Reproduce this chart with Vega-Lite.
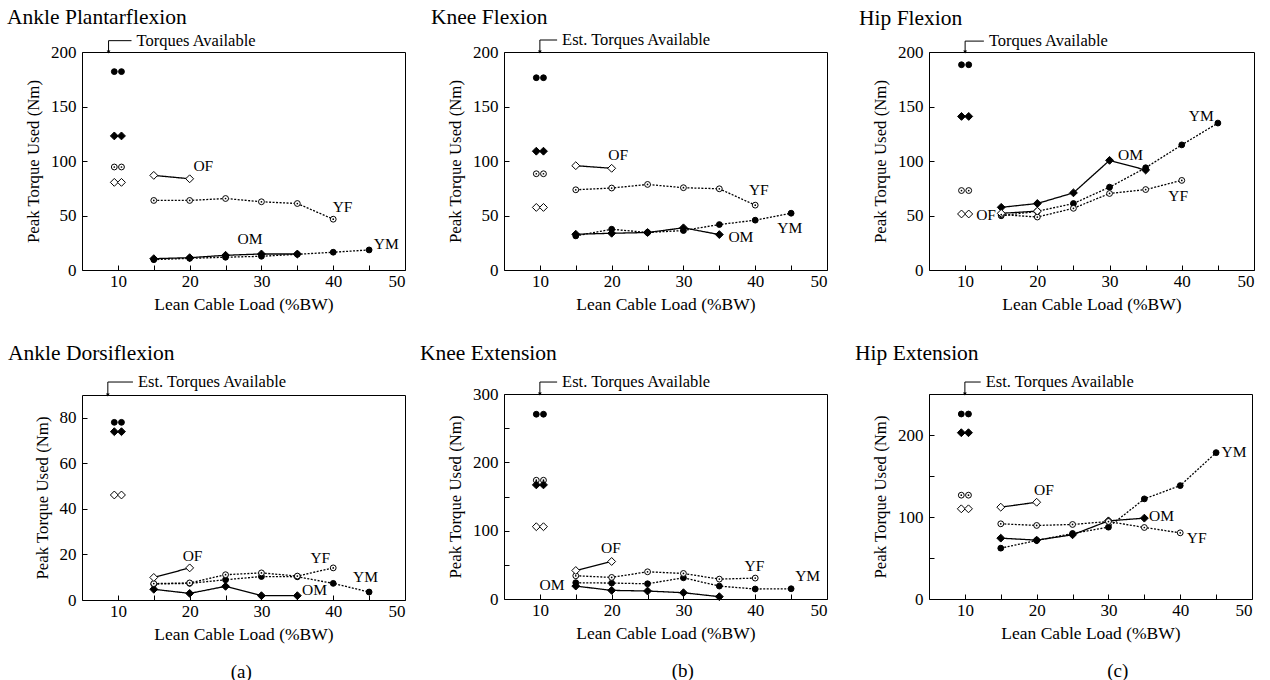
{
"$schema": "https://vega.github.io/schema/vega-lite/v6.json",
"background": "white",
"padding": {"left": 6, "top": 6, "right": 5, "bottom": 5},
"config": {
  "font": "Liberation Serif",
  "view": {"stroke": "black", "strokeWidth": 1},
  "legend": {"disable": true},
  "axis": {"domain": false, "grid": false, "tickSize": -5, "tickColor": "black", "labelColor": "black", "titleColor": "black", "labelFont": "Liberation Serif", "titleFont": "Liberation Serif", "labelFontSize": 17, "titleFontWeight": "normal"},
  "axisX": {"titleFontSize": 17.5, "labelPadding": 8, "titlePadding": 6},
  "axisY": {"titleFontSize": 16.8, "labelPadding": 11, "titlePadding": 8},
  "title": {"font": "Liberation Serif", "fontSize": 21.5, "fontWeight": "normal", "anchor": "start", "color": "black", "frame": "group", "offset": 4},
  "text": {"font": "Liberation Serif", "fontSize": 15.5, "color": "black"}
},
"datasets": {
  "d": [
    {"p":"AP","g":"YM","k":"c","x":15,"y":9.5},{"p":"AP","g":"YM","k":"c","x":20,"y":10.7},{"p":"AP","g":"YM","k":"c","x":25,"y":11.7},{"p":"AP","g":"YM","k":"c","x":30,"y":12.6},{"p":"AP","g":"YM","k":"c","x":35,"y":14.4},{"p":"AP","g":"YM","k":"c","x":40,"y":16.3},{"p":"AP","g":"YM","k":"c","x":45,"y":18.4},
    {"p":"AP","g":"OM","k":"c","x":15,"y":10.4},{"p":"AP","g":"OM","k":"c","x":20,"y":11.3},{"p":"AP","g":"OM","k":"c","x":25,"y":13.5},{"p":"AP","g":"OM","k":"c","x":30,"y":14.7},{"p":"AP","g":"OM","k":"c","x":35,"y":14.7},
    {"p":"AP","g":"YF","k":"c","x":15,"y":63.8},{"p":"AP","g":"YF","k":"c","x":20,"y":63.8},{"p":"AP","g":"YF","k":"c","x":25,"y":65.6},{"p":"AP","g":"YF","k":"c","x":30,"y":62.6},{"p":"AP","g":"YF","k":"c","x":35,"y":61},{"p":"AP","g":"YF","k":"c","x":40,"y":46.6},
    {"p":"AP","g":"OF","k":"c","x":15,"y":86.8},{"p":"AP","g":"OF","k":"c","x":20,"y":83.7},
    {"p":"AP","g":"YM","k":"a","x":9.5,"y":182},{"p":"AP","g":"YM","k":"a","x":10.5,"y":182},
    {"p":"AP","g":"OM","k":"a","x":9.5,"y":123},{"p":"AP","g":"OM","k":"a","x":10.5,"y":123},
    {"p":"AP","g":"YF","k":"a","x":9.5,"y":94.5},{"p":"AP","g":"YF","k":"a","x":10.5,"y":94.5},
    {"p":"AP","g":"OF","k":"a","x":9.5,"y":80.4},{"p":"AP","g":"OF","k":"a","x":10.5,"y":80.4},

    {"p":"KF","g":"YM","k":"c","x":15,"y":31.3},{"p":"KF","g":"YM","k":"c","x":20,"y":37.4},{"p":"KF","g":"YM","k":"c","x":25,"y":34.4},{"p":"KF","g":"YM","k":"c","x":30,"y":36.2},{"p":"KF","g":"YM","k":"c","x":35,"y":41.7},{"p":"KF","g":"YM","k":"c","x":40,"y":45.7},{"p":"KF","g":"YM","k":"c","x":45,"y":52.1},
    {"p":"KF","g":"OM","k":"c","x":15,"y":32.8},{"p":"KF","g":"OM","k":"c","x":20,"y":33.7},{"p":"KF","g":"OM","k":"c","x":25,"y":34.4},{"p":"KF","g":"OM","k":"c","x":30,"y":38.7},{"p":"KF","g":"OM","k":"c","x":35,"y":32.5},
    {"p":"KF","g":"YF","k":"c","x":15,"y":73.6},{"p":"KF","g":"YF","k":"c","x":20,"y":75.2},{"p":"KF","g":"YF","k":"c","x":25,"y":78.5},{"p":"KF","g":"YF","k":"c","x":30,"y":75.5},{"p":"KF","g":"YF","k":"c","x":35,"y":74.5},{"p":"KF","g":"YF","k":"c","x":40,"y":59.5},
    {"p":"KF","g":"OF","k":"c","x":15,"y":95.7},{"p":"KF","g":"OF","k":"c","x":20,"y":93.3},
    {"p":"KF","g":"YM","k":"a","x":9.5,"y":176.4},{"p":"KF","g":"YM","k":"a","x":10.5,"y":176.4},
    {"p":"KF","g":"OM","k":"a","x":9.5,"y":109},{"p":"KF","g":"OM","k":"a","x":10.5,"y":109},
    {"p":"KF","g":"YF","k":"a","x":9.5,"y":88.3},{"p":"KF","g":"YF","k":"a","x":10.5,"y":88.3},
    {"p":"KF","g":"OF","k":"a","x":9.5,"y":57.4},{"p":"KF","g":"OF","k":"a","x":10.5,"y":57.4},

    {"p":"HF","g":"YM","k":"c","x":15,"y":49.8},{"p":"HF","g":"YM","k":"c","x":20,"y":53.8},{"p":"HF","g":"YM","k":"c","x":25,"y":61},{"p":"HF","g":"YM","k":"c","x":30,"y":76},{"p":"HF","g":"YM","k":"c","x":35,"y":93.8},{"p":"HF","g":"YM","k":"c","x":40,"y":114.8},{"p":"HF","g":"YM","k":"c","x":45,"y":134.8},
    {"p":"HF","g":"OM","k":"c","x":15,"y":57.5},{"p":"HF","g":"OM","k":"c","x":20,"y":61},{"p":"HF","g":"OM","k":"c","x":25,"y":70.8},{"p":"HF","g":"OM","k":"c","x":30,"y":100.6},{"p":"HF","g":"OM","k":"c","x":35,"y":91.7},
    {"p":"HF","g":"YF","k":"c","x":15,"y":50.8},{"p":"HF","g":"YF","k":"c","x":20,"y":48.6},{"p":"HF","g":"YF","k":"c","x":25,"y":56.6},{"p":"HF","g":"YF","k":"c","x":30,"y":70.2},{"p":"HF","g":"YF","k":"c","x":35,"y":73.8},{"p":"HF","g":"YF","k":"c","x":40,"y":82.2},
    {"p":"HF","g":"OF","k":"c","x":15,"y":52},{"p":"HF","g":"OF","k":"c","x":20,"y":54},
    {"p":"HF","g":"YM","k":"a","x":9.5,"y":188.3},{"p":"HF","g":"YM","k":"a","x":10.5,"y":188.3},
    {"p":"HF","g":"OM","k":"a","x":9.5,"y":140.9},{"p":"HF","g":"OM","k":"a","x":10.5,"y":140.9},
    {"p":"HF","g":"YF","k":"a","x":9.5,"y":72.9},{"p":"HF","g":"YF","k":"a","x":10.5,"y":72.9},
    {"p":"HF","g":"OF","k":"a","x":9.5,"y":51.4},{"p":"HF","g":"OF","k":"a","x":10.5,"y":51.4},

    {"p":"AD","g":"YM","k":"c","x":15,"y":7},{"p":"AD","g":"YM","k":"c","x":20,"y":7.3},{"p":"AD","g":"YM","k":"c","x":25,"y":8.9},{"p":"AD","g":"YM","k":"c","x":30,"y":10.3},{"p":"AD","g":"YM","k":"c","x":35,"y":10.2},{"p":"AD","g":"YM","k":"c","x":40,"y":7.3},{"p":"AD","g":"YM","k":"c","x":45,"y":3.5},
    {"p":"AD","g":"OM","k":"c","x":15,"y":4.7},{"p":"AD","g":"OM","k":"c","x":20,"y":2.9},{"p":"AD","g":"OM","k":"c","x":25,"y":6},{"p":"AD","g":"OM","k":"c","x":30,"y":1.9},{"p":"AD","g":"OM","k":"c","x":35,"y":1.9},
    {"p":"AD","g":"YF","k":"c","x":15,"y":7.2},{"p":"AD","g":"YF","k":"c","x":20,"y":7.5},{"p":"AD","g":"YF","k":"c","x":25,"y":11.1},{"p":"AD","g":"YF","k":"c","x":30,"y":11.9},{"p":"AD","g":"YF","k":"c","x":35,"y":10.5},{"p":"AD","g":"YF","k":"c","x":40,"y":14.1},
    {"p":"AD","g":"OF","k":"c","x":15,"y":9.9},{"p":"AD","g":"OF","k":"c","x":20,"y":14.1},
    {"p":"AD","g":"YM","k":"a","x":9.5,"y":78},{"p":"AD","g":"YM","k":"a","x":10.5,"y":78},
    {"p":"AD","g":"OM","k":"a","x":9.5,"y":73.9},{"p":"AD","g":"OM","k":"a","x":10.5,"y":73.9},
    {"p":"AD","g":"OF","k":"a","x":9.5,"y":46.1},{"p":"AD","g":"OF","k":"a","x":10.5,"y":46.1},

    {"p":"KE","g":"YM","k":"c","x":15,"y":23.8},{"p":"KE","g":"YM","k":"c","x":20,"y":23.3},{"p":"KE","g":"YM","k":"c","x":25,"y":22.3},{"p":"KE","g":"YM","k":"c","x":30,"y":31},{"p":"KE","g":"YM","k":"c","x":35,"y":18.9},{"p":"KE","g":"YM","k":"c","x":40,"y":14.6},{"p":"KE","g":"YM","k":"c","x":45,"y":15},
    {"p":"KE","g":"OM","k":"c","x":15,"y":18.9},{"p":"KE","g":"OM","k":"c","x":20,"y":12.6},{"p":"KE","g":"OM","k":"c","x":25,"y":11.7},{"p":"KE","g":"OM","k":"c","x":30,"y":9.2},{"p":"KE","g":"OM","k":"c","x":35,"y":3.4},
    {"p":"KE","g":"YF","k":"c","x":15,"y":34},{"p":"KE","g":"YF","k":"c","x":20,"y":31.6},{"p":"KE","g":"YF","k":"c","x":25,"y":39.8},{"p":"KE","g":"YF","k":"c","x":30,"y":37.4},{"p":"KE","g":"YF","k":"c","x":35,"y":29.1},{"p":"KE","g":"YF","k":"c","x":40,"y":30.6},
    {"p":"KE","g":"OF","k":"c","x":15,"y":41.7},{"p":"KE","g":"OF","k":"c","x":20,"y":54.9},
    {"p":"KE","g":"YM","k":"a","x":9.5,"y":270.4},{"p":"KE","g":"YM","k":"a","x":10.5,"y":270.4},
    {"p":"KE","g":"YF","k":"a","x":9.5,"y":173.8},{"p":"KE","g":"YF","k":"a","x":10.5,"y":173.8},
    {"p":"KE","g":"OM","k":"a","x":9.5,"y":167},{"p":"KE","g":"OM","k":"a","x":10.5,"y":167},
    {"p":"KE","g":"OF","k":"a","x":9.5,"y":105.8},{"p":"KE","g":"OF","k":"a","x":10.5,"y":105.8},

    {"p":"HE","g":"YM","k":"c","x":15,"y":62},{"p":"HE","g":"YM","k":"c","x":20,"y":71.4},{"p":"HE","g":"YM","k":"c","x":25,"y":79.9},{"p":"HE","g":"YM","k":"c","x":30,"y":87.6},{"p":"HE","g":"YM","k":"c","x":35,"y":122.1},{"p":"HE","g":"YM","k":"c","x":40,"y":138.3},{"p":"HE","g":"YM","k":"c","x":45,"y":178.5},
    {"p":"HE","g":"OM","k":"c","x":15,"y":74.2},{"p":"HE","g":"OM","k":"c","x":20,"y":71.8},{"p":"HE","g":"OM","k":"c","x":25,"y":78.3},{"p":"HE","g":"OM","k":"c","x":30,"y":95.3},{"p":"HE","g":"OM","k":"c","x":35,"y":98.6},
    {"p":"HE","g":"YF","k":"c","x":15,"y":91.7},{"p":"HE","g":"YF","k":"c","x":20,"y":89.7},{"p":"HE","g":"YF","k":"c","x":25,"y":90.9},{"p":"HE","g":"YF","k":"c","x":30,"y":94.5},{"p":"HE","g":"YF","k":"c","x":35,"y":87.2},{"p":"HE","g":"YF","k":"c","x":40,"y":80.7},
    {"p":"HE","g":"OF","k":"c","x":15,"y":112},{"p":"HE","g":"OF","k":"c","x":20,"y":118},
    {"p":"HE","g":"YM","k":"a","x":9.5,"y":225.6},{"p":"HE","g":"YM","k":"a","x":10.5,"y":225.6},
    {"p":"HE","g":"OM","k":"a","x":9.5,"y":202.8},{"p":"HE","g":"OM","k":"a","x":10.5,"y":202.8},
    {"p":"HE","g":"YF","k":"a","x":9.5,"y":126.6},{"p":"HE","g":"YF","k":"a","x":10.5,"y":126.6},
    {"p":"HE","g":"OF","k":"a","x":9.5,"y":110},{"p":"HE","g":"OF","k":"a","x":10.5,"y":110}
  ],
  "labs": [
    {"p":"AP","t":"OF","x":21.9,"y":95},{"p":"AP","t":"YF","x":41.3,"y":58},{"p":"AP","t":"OM","x":28.4,"y":28.5},{"p":"AP","t":"YM","x":47.4,"y":23.6},
    {"p":"KF","t":"OF","x":20.9,"y":105.8},{"p":"KF","t":"YF","x":40.5,"y":73.6},{"p":"KF","t":"OM","x":38,"y":30.7},{"p":"KF","t":"YM","x":44.8,"y":38.3},
    {"p":"HF","t":"OF","x":12.9,"y":50.8},{"p":"HF","t":"OM","x":32.9,"y":105.5},{"p":"HF","t":"YF","x":39.5,"y":68.3},{"p":"HF","t":"YM","x":42.7,"y":141.5},
    {"p":"AD","t":"OF","x":20.4,"y":19.3},{"p":"AD","t":"YF","x":38.2,"y":18.3},{"p":"AD","t":"YM","x":44.5,"y":10.3},{"p":"AD","t":"OM","x":37.4,"y":4.4},
    {"p":"KE","t":"OF","x":19.9,"y":75.2},{"p":"KE","t":"YF","x":39.9,"y":47.6},{"p":"KE","t":"YM","x":47.3,"y":33},{"p":"KE","t":"OM","x":11.7,"y":20.9},
    {"p":"HE","t":"OF","x":21,"y":133},{"p":"HE","t":"OM","x":37.4,"y":101.4},{"p":"HE","t":"YM","x":47.5,"y":179.7},{"p":"HE","t":"YF","x":42.3,"y":74.2}
  ],
  "ann": [
    {"p":"AP","t":"Torques Available","x":8.7,"x2":11.9,"y":210.4,"y2":200},
    {"p":"KF","t":"Est. Torques Available","x":10,"x2":12.4,"y":211,"y2":200},
    {"p":"HF","t":"Torques Available","x":10,"x2":12.6,"y":210,"y2":200},
    {"p":"AD","t":"Est. Torques Available","x":8.6,"x2":12.1,"y":95.7,"y2":90},
    {"p":"KE","t":"Est. Torques Available","x":10,"x2":12.4,"y":317.5,"y2":300},
    {"p":"HE","t":"Est. Torques Available","x":10,"x2":12.2,"y":264.6,"y2":250}
  ]
},
"spacing": 13,
"hconcat": [
  {"title": {"text": "(a)", "orient": "bottom", "anchor": "middle", "frame": "bounds", "fontSize": 19, "offset": 20, "dx": 35},
   "spacing": 29,
   "vconcat": [
    {"width": 323, "height": 218, "title": {"text": "Ankle Plantarflexion", "dx": -75},
     "encoding": {
       "x": {"field": "x", "type": "quantitative", "title": "Lean Cable Load (%BW)", "scale": {"domain": [5, 50], "nice": false, "zero": false}, "axis": {"values": [10,15,20,25,30,35,40,45,50], "labelExpr": "datum.value % 10 == 0 ? datum.label : ''"}},
       "y": {"field": "y", "type": "quantitative", "title": "Peak Torque Used (Nm)", "scale": {"domain": [0, 200], "nice": false}, "axis": {"values": [0,50,100,150,200]}}
     },
     "layer": [
       {"data": {"name": "d"}, "transform": [{"filter": "datum.p=='AP' && datum.k=='c'"}], "mark": {"type": "line", "color": "black", "strokeWidth": 1.3}, "encoding": {"detail": {"field": "g"}, "strokeDash": {"field": "g", "type": "nominal", "scale": {"domain": ["YM","OM","YF","OF"], "range": [[2,1.5],[1,0],[2,1.5],[1,0]]}}}},
       {"data": {"name": "d"}, "transform": [{"filter": "datum.p=='AP'"}], "mark": {"type": "point", "filled": true, "stroke": "black", "strokeWidth": 1, "opacity": 1}, "encoding": {"shape": {"field": "g", "type": "nominal", "scale": {"domain": ["YM","OM","YF","OF"], "range": ["circle","diamond","circle","diamond"]}}, "fill": {"field": "g", "type": "nominal", "scale": {"domain": ["YM","OM","YF","OF"], "range": ["black","black","white","white"]}}, "size": {"condition": {"test": "datum.g=='OM' || datum.g=='OF'", "value": 62}, "value": 34}}},
       {"data": {"name": "d"}, "transform": [{"filter": "datum.p=='AP' && datum.g=='YF'"}], "mark": {"type": "point", "filled": true, "color": "black", "size": 3, "opacity": 1}},
       {"data": {"name": "labs"}, "transform": [{"filter": "datum.p=='AP'"}], "mark": {"type": "text", "align": "center", "baseline": "middle"}, "encoding": {"text": {"field": "t"}}},
       {"data": {"name": "ann"}, "transform": [{"filter": "datum.p=='AP'"}], "mark": {"type": "rule", "color": "black", "strokeWidth": 1}, "encoding": {"y2": {"field": "y2"}}},
       {"data": {"name": "ann"}, "transform": [{"filter": "datum.p=='AP'"}], "mark": {"type": "rule", "color": "black", "strokeWidth": 1}, "encoding": {"x2": {"field": "x2"}}},
       {"data": {"name": "ann"}, "transform": [{"filter": "datum.p=='AP'"}], "mark": {"type": "point", "shape": "triangle-down", "filled": true, "color": "black", "size": 14, "dy": -3, "opacity": 1}, "encoding": {"y": {"field": "y2", "type": "quantitative", "title": "Peak Torque Used (Nm)"}}},
       {"data": {"name": "ann"}, "transform": [{"filter": "datum.p=='AP'"}], "mark": {"type": "text", "align": "left", "baseline": "middle", "fontSize": 16.5, "dx": 5}, "encoding": {"x": {"field": "x2", "type": "quantitative", "title": "Lean Cable Load (%BW)"}, "text": {"field": "t"}}}
     ]},
    {"width": 323, "height": 205, "title": {"text": "Ankle Dorsiflexion", "dx": -74, "offset": 10},
     "encoding": {
       "x": {"field": "x", "type": "quantitative", "title": "Lean Cable Load (%BW)", "scale": {"domain": [5, 50], "nice": false, "zero": false}, "axis": {"values": [10,15,20,25,30,35,40,45,50], "labelExpr": "datum.value % 10 == 0 ? datum.label : ''"}},
       "y": {"field": "y", "type": "quantitative", "title": "Peak Torque Used (Nm)", "scale": {"domain": [0, 90], "nice": false}, "axis": {"values": [0,20,40,60,80]}}
     },
     "layer": [
       {"data": {"name": "d"}, "transform": [{"filter": "datum.p=='AD' && datum.k=='c'"}], "mark": {"type": "line", "color": "black", "strokeWidth": 1.3}, "encoding": {"detail": {"field": "g"}, "strokeDash": {"field": "g", "type": "nominal", "scale": {"domain": ["YM","OM","YF","OF"], "range": [[2,1.5],[1,0],[2,1.5],[1,0]]}}}},
       {"data": {"name": "d"}, "transform": [{"filter": "datum.p=='AD'"}], "mark": {"type": "point", "filled": true, "stroke": "black", "strokeWidth": 1, "opacity": 1}, "encoding": {"shape": {"field": "g", "type": "nominal", "scale": {"domain": ["YM","OM","YF","OF"], "range": ["circle","diamond","circle","diamond"]}}, "fill": {"field": "g", "type": "nominal", "scale": {"domain": ["YM","OM","YF","OF"], "range": ["black","black","white","white"]}}, "size": {"condition": {"test": "datum.g=='OM' || datum.g=='OF'", "value": 62}, "value": 34}}},
       {"data": {"name": "d"}, "transform": [{"filter": "datum.p=='AD' && datum.g=='YF'"}], "mark": {"type": "point", "filled": true, "color": "black", "size": 3, "opacity": 1}},
       {"data": {"name": "labs"}, "transform": [{"filter": "datum.p=='AD'"}], "mark": {"type": "text", "align": "center", "baseline": "middle"}, "encoding": {"text": {"field": "t"}}},
       {"data": {"name": "ann"}, "transform": [{"filter": "datum.p=='AD'"}], "mark": {"type": "rule", "color": "black", "strokeWidth": 1}, "encoding": {"y2": {"field": "y2"}}},
       {"data": {"name": "ann"}, "transform": [{"filter": "datum.p=='AD'"}], "mark": {"type": "rule", "color": "black", "strokeWidth": 1}, "encoding": {"x2": {"field": "x2"}}},
       {"data": {"name": "ann"}, "transform": [{"filter": "datum.p=='AD'"}], "mark": {"type": "point", "shape": "triangle-down", "filled": true, "color": "black", "size": 14, "dy": -3, "opacity": 1}, "encoding": {"y": {"field": "y2", "type": "quantitative", "title": "Peak Torque Used (Nm)"}}},
       {"data": {"name": "ann"}, "transform": [{"filter": "datum.p=='AD'"}], "mark": {"type": "text", "align": "left", "baseline": "middle", "fontSize": 16.5, "dx": 5}, "encoding": {"x": {"field": "x2", "type": "quantitative", "title": "Lean Cable Load (%BW)"}, "text": {"field": "t"}}}
     ]}
   ]},
  {"spacing": 26,
   "hconcat": [
  {"title": {"text": "(b)", "orient": "bottom", "anchor": "middle", "frame": "bounds", "fontSize": 19, "offset": 20, "dx": 59},
   "spacing": 29,
   "vconcat": [
    {"width": 323, "height": 218, "title": {"text": "Knee Flexion", "dx": -73},
     "encoding": {
       "x": {"field": "x", "type": "quantitative", "title": "Lean Cable Load (%BW)", "scale": {"domain": [5, 50], "nice": false, "zero": false}, "axis": {"values": [10,15,20,25,30,35,40,45,50], "labelExpr": "datum.value % 10 == 0 ? datum.label : ''"}},
       "y": {"field": "y", "type": "quantitative", "title": "Peak Torque Used (Nm)", "scale": {"domain": [0, 200], "nice": false}, "axis": {"values": [0,50,100,150,200]}}
     },
     "layer": [
       {"data": {"name": "d"}, "transform": [{"filter": "datum.p=='KF' && datum.k=='c'"}], "mark": {"type": "line", "color": "black", "strokeWidth": 1.3}, "encoding": {"detail": {"field": "g"}, "strokeDash": {"field": "g", "type": "nominal", "scale": {"domain": ["YM","OM","YF","OF"], "range": [[2,1.5],[1,0],[2,1.5],[1,0]]}}}},
       {"data": {"name": "d"}, "transform": [{"filter": "datum.p=='KF'"}], "mark": {"type": "point", "filled": true, "stroke": "black", "strokeWidth": 1, "opacity": 1}, "encoding": {"shape": {"field": "g", "type": "nominal", "scale": {"domain": ["YM","OM","YF","OF"], "range": ["circle","diamond","circle","diamond"]}}, "fill": {"field": "g", "type": "nominal", "scale": {"domain": ["YM","OM","YF","OF"], "range": ["black","black","white","white"]}}, "size": {"condition": {"test": "datum.g=='OM' || datum.g=='OF'", "value": 62}, "value": 34}}},
       {"data": {"name": "d"}, "transform": [{"filter": "datum.p=='KF' && datum.g=='YF'"}], "mark": {"type": "point", "filled": true, "color": "black", "size": 3, "opacity": 1}},
       {"data": {"name": "labs"}, "transform": [{"filter": "datum.p=='KF'"}], "mark": {"type": "text", "align": "center", "baseline": "middle"}, "encoding": {"text": {"field": "t"}}},
       {"data": {"name": "ann"}, "transform": [{"filter": "datum.p=='KF'"}], "mark": {"type": "rule", "color": "black", "strokeWidth": 1}, "encoding": {"y2": {"field": "y2"}}},
       {"data": {"name": "ann"}, "transform": [{"filter": "datum.p=='KF'"}], "mark": {"type": "rule", "color": "black", "strokeWidth": 1}, "encoding": {"x2": {"field": "x2"}}},
       {"data": {"name": "ann"}, "transform": [{"filter": "datum.p=='KF'"}], "mark": {"type": "point", "shape": "triangle-down", "filled": true, "color": "black", "size": 14, "dy": -3, "opacity": 1}, "encoding": {"y": {"field": "y2", "type": "quantitative", "title": "Peak Torque Used (Nm)"}}},
       {"data": {"name": "ann"}, "transform": [{"filter": "datum.p=='KF'"}], "mark": {"type": "text", "align": "left", "baseline": "middle", "fontSize": 16.5, "dx": 5}, "encoding": {"x": {"field": "x2", "type": "quantitative", "title": "Lean Cable Load (%BW)"}, "text": {"field": "t"}}}
     ]},
    {"width": 323, "height": 205, "title": {"text": "Knee Extension", "dx": -84, "offset": 10},
     "encoding": {
       "x": {"field": "x", "type": "quantitative", "title": "Lean Cable Load (%BW)", "scale": {"domain": [5, 50], "nice": false, "zero": false}, "axis": {"values": [10,15,20,25,30,35,40,45,50], "labelExpr": "datum.value % 10 == 0 ? datum.label : ''"}},
       "y": {"field": "y", "type": "quantitative", "title": "Peak Torque Used (Nm)", "scale": {"domain": [0, 300], "nice": false}, "axis": {"values": [0,50,100,150,200,250,300], "labelExpr": "datum.value % 100 == 0 ? datum.label : ''"}}
     },
     "layer": [
       {"data": {"name": "d"}, "transform": [{"filter": "datum.p=='KE' && datum.k=='c'"}], "mark": {"type": "line", "color": "black", "strokeWidth": 1.3}, "encoding": {"detail": {"field": "g"}, "strokeDash": {"field": "g", "type": "nominal", "scale": {"domain": ["YM","OM","YF","OF"], "range": [[2,1.5],[1,0],[2,1.5],[1,0]]}}}},
       {"data": {"name": "d"}, "transform": [{"filter": "datum.p=='KE'"}], "mark": {"type": "point", "filled": true, "stroke": "black", "strokeWidth": 1, "opacity": 1}, "encoding": {"shape": {"field": "g", "type": "nominal", "scale": {"domain": ["YM","OM","YF","OF"], "range": ["circle","diamond","circle","diamond"]}}, "fill": {"field": "g", "type": "nominal", "scale": {"domain": ["YM","OM","YF","OF"], "range": ["black","black","white","white"]}}, "size": {"condition": {"test": "datum.g=='OM' || datum.g=='OF'", "value": 62}, "value": 34}}},
       {"data": {"name": "d"}, "transform": [{"filter": "datum.p=='KE' && datum.g=='YF'"}], "mark": {"type": "point", "filled": true, "color": "black", "size": 3, "opacity": 1}},
       {"data": {"name": "labs"}, "transform": [{"filter": "datum.p=='KE'"}], "mark": {"type": "text", "align": "center", "baseline": "middle"}, "encoding": {"text": {"field": "t"}}},
       {"data": {"name": "ann"}, "transform": [{"filter": "datum.p=='KE'"}], "mark": {"type": "rule", "color": "black", "strokeWidth": 1}, "encoding": {"y2": {"field": "y2"}}},
       {"data": {"name": "ann"}, "transform": [{"filter": "datum.p=='KE'"}], "mark": {"type": "rule", "color": "black", "strokeWidth": 1}, "encoding": {"x2": {"field": "x2"}}},
       {"data": {"name": "ann"}, "transform": [{"filter": "datum.p=='KE'"}], "mark": {"type": "point", "shape": "triangle-down", "filled": true, "color": "black", "size": 14, "dy": -3, "opacity": 1}, "encoding": {"y": {"field": "y2", "type": "quantitative", "title": "Peak Torque Used (Nm)"}}},
       {"data": {"name": "ann"}, "transform": [{"filter": "datum.p=='KE'"}], "mark": {"type": "text", "align": "left", "baseline": "middle", "fontSize": 16.5, "dx": 5}, "encoding": {"x": {"field": "x2", "type": "quantitative", "title": "Lean Cable Load (%BW)"}, "text": {"field": "t"}}}
     ]}
   ]},
  {"title": {"text": "(c)", "orient": "bottom", "anchor": "middle", "frame": "bounds", "fontSize": 19, "offset": 20, "dx": 63},
   "spacing": 29,
   "vconcat": [
    {"width": 325, "height": 218, "title": {"text": "Hip Flexion", "dx": -70},
     "encoding": {
       "x": {"field": "x", "type": "quantitative", "title": "Lean Cable Load (%BW)", "scale": {"domain": [5, 50], "nice": false, "zero": false}, "axis": {"values": [10,15,20,25,30,35,40,45,50], "labelExpr": "datum.value % 10 == 0 ? datum.label : ''"}},
       "y": {"field": "y", "type": "quantitative", "title": "Peak Torque Used (Nm)", "scale": {"domain": [0, 200], "nice": false}, "axis": {"values": [0,50,100,150,200]}}
     },
     "layer": [
       {"data": {"name": "d"}, "transform": [{"filter": "datum.p=='HF' && datum.k=='c'"}], "mark": {"type": "line", "color": "black", "strokeWidth": 1.3}, "encoding": {"detail": {"field": "g"}, "strokeDash": {"field": "g", "type": "nominal", "scale": {"domain": ["YM","OM","YF","OF"], "range": [[2,1.5],[1,0],[2,1.5],[1,0]]}}}},
       {"data": {"name": "d"}, "transform": [{"filter": "datum.p=='HF'"}], "mark": {"type": "point", "filled": true, "stroke": "black", "strokeWidth": 1, "opacity": 1}, "encoding": {"shape": {"field": "g", "type": "nominal", "scale": {"domain": ["YM","OM","YF","OF"], "range": ["circle","diamond","circle","diamond"]}}, "fill": {"field": "g", "type": "nominal", "scale": {"domain": ["YM","OM","YF","OF"], "range": ["black","black","white","white"]}}, "size": {"condition": {"test": "datum.g=='OM' || datum.g=='OF'", "value": 62}, "value": 34}}},
       {"data": {"name": "d"}, "transform": [{"filter": "datum.p=='HF' && datum.g=='YF'"}], "mark": {"type": "point", "filled": true, "color": "black", "size": 3, "opacity": 1}},
       {"data": {"name": "labs"}, "transform": [{"filter": "datum.p=='HF'"}], "mark": {"type": "text", "align": "center", "baseline": "middle"}, "encoding": {"text": {"field": "t"}}},
       {"data": {"name": "ann"}, "transform": [{"filter": "datum.p=='HF'"}], "mark": {"type": "rule", "color": "black", "strokeWidth": 1}, "encoding": {"y2": {"field": "y2"}}},
       {"data": {"name": "ann"}, "transform": [{"filter": "datum.p=='HF'"}], "mark": {"type": "rule", "color": "black", "strokeWidth": 1}, "encoding": {"x2": {"field": "x2"}}},
       {"data": {"name": "ann"}, "transform": [{"filter": "datum.p=='HF'"}], "mark": {"type": "point", "shape": "triangle-down", "filled": true, "color": "black", "size": 14, "dy": -3, "opacity": 1}, "encoding": {"y": {"field": "y2", "type": "quantitative", "title": "Peak Torque Used (Nm)"}}},
       {"data": {"name": "ann"}, "transform": [{"filter": "datum.p=='HF'"}], "mark": {"type": "text", "align": "left", "baseline": "middle", "fontSize": 16.5, "dx": 5}, "encoding": {"x": {"field": "x2", "type": "quantitative", "title": "Lean Cable Load (%BW)"}, "text": {"field": "t"}}}
     ]},
    {"width": 323, "height": 205, "title": {"text": "Hip Extension", "dx": -74, "offset": 10},
     "encoding": {
       "x": {"field": "x", "type": "quantitative", "title": "Lean Cable Load (%BW)", "scale": {"domain": [5, 50], "nice": false, "zero": false}, "axis": {"values": [10,15,20,25,30,35,40,45,50], "labelExpr": "datum.value % 10 == 0 ? datum.label : ''"}},
       "y": {"field": "y", "type": "quantitative", "title": "Peak Torque Used (Nm)", "scale": {"domain": [0, 250], "nice": false}, "axis": {"values": [0,50,100,150,200,250], "labelExpr": "datum.value % 100 == 0 ? datum.label : ''"}}
     },
     "layer": [
       {"data": {"name": "d"}, "transform": [{"filter": "datum.p=='HE' && datum.k=='c'"}], "mark": {"type": "line", "color": "black", "strokeWidth": 1.3}, "encoding": {"detail": {"field": "g"}, "strokeDash": {"field": "g", "type": "nominal", "scale": {"domain": ["YM","OM","YF","OF"], "range": [[2,1.5],[1,0],[2,1.5],[1,0]]}}}},
       {"data": {"name": "d"}, "transform": [{"filter": "datum.p=='HE'"}], "mark": {"type": "point", "filled": true, "stroke": "black", "strokeWidth": 1, "opacity": 1}, "encoding": {"shape": {"field": "g", "type": "nominal", "scale": {"domain": ["YM","OM","YF","OF"], "range": ["circle","diamond","circle","diamond"]}}, "fill": {"field": "g", "type": "nominal", "scale": {"domain": ["YM","OM","YF","OF"], "range": ["black","black","white","white"]}}, "size": {"condition": {"test": "datum.g=='OM' || datum.g=='OF'", "value": 62}, "value": 34}}},
       {"data": {"name": "d"}, "transform": [{"filter": "datum.p=='HE' && datum.g=='YF'"}], "mark": {"type": "point", "filled": true, "color": "black", "size": 3, "opacity": 1}},
       {"data": {"name": "labs"}, "transform": [{"filter": "datum.p=='HE'"}], "mark": {"type": "text", "align": "center", "baseline": "middle"}, "encoding": {"text": {"field": "t"}}},
       {"data": {"name": "ann"}, "transform": [{"filter": "datum.p=='HE'"}], "mark": {"type": "rule", "color": "black", "strokeWidth": 1}, "encoding": {"y2": {"field": "y2"}}},
       {"data": {"name": "ann"}, "transform": [{"filter": "datum.p=='HE'"}], "mark": {"type": "rule", "color": "black", "strokeWidth": 1}, "encoding": {"x2": {"field": "x2"}}},
       {"data": {"name": "ann"}, "transform": [{"filter": "datum.p=='HE'"}], "mark": {"type": "point", "shape": "triangle-down", "filled": true, "color": "black", "size": 14, "dy": -3, "opacity": 1}, "encoding": {"y": {"field": "y2", "type": "quantitative", "title": "Peak Torque Used (Nm)"}}},
       {"data": {"name": "ann"}, "transform": [{"filter": "datum.p=='HE'"}], "mark": {"type": "text", "align": "left", "baseline": "middle", "fontSize": 16.5, "dx": 5}, "encoding": {"x": {"field": "x2", "type": "quantitative", "title": "Lean Cable Load (%BW)"}, "text": {"field": "t"}}}
     ]}
   ]}
  ]}
]
}
